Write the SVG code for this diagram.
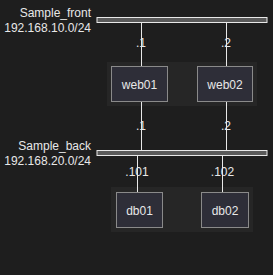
<svg xmlns="http://www.w3.org/2000/svg" width="273" height="275" viewBox="0 0 273 275">
<style>
text{font-family:"Liberation Sans",Arial,sans-serif;fill:#e8e8e8;font-size:12px}
.lbl{text-anchor:end}
.ip{text-anchor:middle}
.bar{fill:#5a5a5a;stroke:#e8e8e8;stroke-width:1}
.grp{fill:#262626}
.node rect{fill:#2e2e38;stroke:#8a8a8a;stroke-width:1}
.node text{text-anchor:middle}
.conn line{stroke:#e8e8e8;stroke-width:1}
</style>
<rect width="273" height="275" fill="#1e1e1e"/>
<g id="net_front">
<rect class="bar" x="97" y="17.5" width="170" height="5"/>
<text class="lbl" x="91" y="17">Sample_front</text>
<text class="lbl" x="91" y="32">192.168.10.0/24</text>
</g>
<g id="net_back">
<rect class="bar" x="97" y="150.5" width="170" height="5"/>
<text class="lbl" x="91" y="150">Sample_back</text>
<text class="lbl" x="91" y="165">192.168.20.0/24</text>
</g>
<rect class="grp" x="107" y="62" width="150" height="44"/>
<rect class="grp" x="111" y="187" width="142" height="45"/>
<g class="conn" id="connectors">
<line x1="141.5" y1="23" x2="141.5" y2="66"/>
<line x1="226.5" y1="23" x2="226.5" y2="66"/>
<line x1="141.5" y1="101" x2="141.5" y2="150"/>
<line x1="226.5" y1="101" x2="226.5" y2="150"/>
<line x1="137.5" y1="156" x2="137.5" y2="192"/>
<line x1="222.5" y1="156" x2="222.5" y2="192"/>
<text class="ip" x="141" y="47">.1</text>
<text class="ip" x="226" y="47">.2</text>
<text class="ip" x="141" y="130">.1</text>
<text class="ip" x="226" y="130">.2</text>
<text class="ip" x="137" y="176">.101</text>
<text class="ip" x="222.5" y="176">.102</text>
</g>
<g class="node" id="web01"><rect x="111.5" y="66.5" width="56" height="35"/><text x="139.5" y="89">web01</text></g>
<g class="node" id="web02"><rect x="197.5" y="66.5" width="55" height="35"/><text x="225" y="89">web02</text></g>
<g class="node" id="db01"><rect x="116.5" y="192.5" width="46" height="35"/><text x="139.5" y="214.5">db01</text></g>
<g class="node" id="db02"><rect x="201.5" y="192.5" width="47" height="35"/><text x="225" y="214.5">db02</text></g>
</svg>
